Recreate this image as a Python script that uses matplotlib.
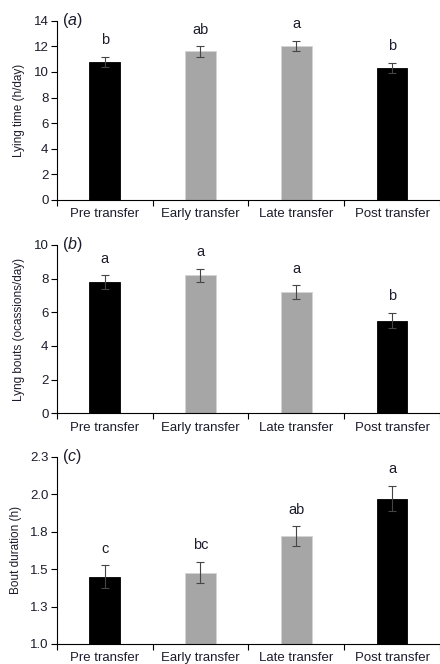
import numpy as np
import matplotlib
matplotlib.use("Agg")
import matplotlib.pyplot as plt
from matplotlib.ticker import FixedLocator, FixedFormatter

plt.rcParams['font.family'] = ['Liberation Sans', 'DejaVu Sans']
plt.rcParams['mathtext.fontset'] = 'custom'
plt.rcParams['mathtext.it'] = 'Liberation Sans:italic'

categories = ["Pre transfer", "Early transfer", "Late transfer", "Post transfer"]
bar_colors = ["black", "#a6a6a6", "#a6a6a6", "black"]
edge_colors = ["black", "#d4d4d4", "#d4d4d4", "black"]

lying_time = [10.8, 11.6, 12.0, 10.3]
lying_time_err = [0.4, 0.4, 0.4, 0.4]
lying_time_letters = ["b", "ab", "a", "b"]

lying_bouts = [7.8, 8.2, 7.2, 5.5]
lying_bouts_err = [0.4, 0.4, 0.4, 0.45]
lying_bouts_letters = ["a", "a", "a", "b"]

bout_duration = [1.45, 1.476, 1.72, 1.97]
bout_duration_err = [0.075, 0.07, 0.065, 0.083]
bout_duration_letters = ["c", "bc", "ab", "a"]

yticks_a = [0, 2, 4, 6, 8, 10, 12, 14]
yticks_b = [0, 2, 4, 6, 8, 10]
yticks_c = [1.0, 1.25, 1.5, 1.75, 2.0, 2.25]
yticklabels_c = ["1.0", "1.3", "1.5", "1.8", "2.0", "2.3"]

panels = [
    ("a", "Lying time (h/day)", lying_time, lying_time_err, lying_time_letters,
     yticks_a, [str(t) for t in yticks_a]),
    ("b", "Lyng bouts (ocassions/day)", lying_bouts, lying_bouts_err, lying_bouts_letters,
     yticks_b, [str(t) for t in yticks_b]),
    ("c", "Bout duration (h)", bout_duration, bout_duration_err, bout_duration_letters,
     yticks_c, yticklabels_c),
]

# axes boxes in figure fraction (left, bottom, width, height)
boxes = [
    (0.129, 1 - 200 / 664, 0.871, (200 - 20.7) / 664),
    (0.129, 1 - 413.3 / 664, 0.871, (413.3 - 245) / 664),
    (0.129, 1 - 644 / 664, 0.871, (644 - 456.7) / 664),
]

text_color = "#1c1c2c"
fig = plt.figure(figsize=(4.4, 6.64), dpi=100)

x = np.arange(len(categories))
for (tag, ylabel, vals, errs, letters, yt, ytl), box in zip(panels, boxes):
    ax = fig.add_axes(box)
    ax.bar(x, vals, width=0.32, color=bar_colors, edgecolor=edge_colors,
           linewidth=0.6, zorder=2)
    ax.errorbar(x, vals, yerr=errs, fmt="none", ecolor="#454545", elinewidth=0.8,
                capsize=3, capthick=0.8, zorder=3)
    for xi, v, e, lab in zip(x, vals, errs, letters):
        ax.annotate(lab, (xi, v + e), xytext=(0, 7), textcoords="offset points",
                    ha="center", va="bottom", fontsize=10.5, color=text_color)
    ax.set_xlim(-0.5, 3.5)
    ax.set_ylim(yt[0], yt[-1])
    ax.yaxis.set_major_locator(FixedLocator(yt))
    ax.yaxis.set_major_formatter(FixedFormatter(ytl))
    ax.set_xticks(x)
    ax.set_xticklabels(categories)
    ax.set_xticks(np.arange(-0.5, 3.6, 1.0), minor=True)
    ax.tick_params(axis="x", which="major", length=0, pad=6, labelsize=9.5, labelcolor=text_color)
    ax.tick_params(axis="x", which="minor", length=4, direction="out", width=0.8)
    ax.tick_params(axis="y", length=4, width=0.8, labelsize=9.5, labelcolor=text_color, pad=2)
    for s in ["top", "right"]:
        ax.spines[s].set_visible(False)
    for s in ["left", "bottom"]:
        ax.spines[s].set_linewidth(0.8)
    ax.set_ylabel(ylabel, fontsize=8.5, color=text_color, labelpad=6)
    ax.text(0.014, 1.0, "(" + r"$\mathit{" + tag + "}$" + ")", transform=ax.transAxes,
            fontsize=11.5, va="center", ha="left", color=text_color)

fig.savefig("out.png", dpi=100)
